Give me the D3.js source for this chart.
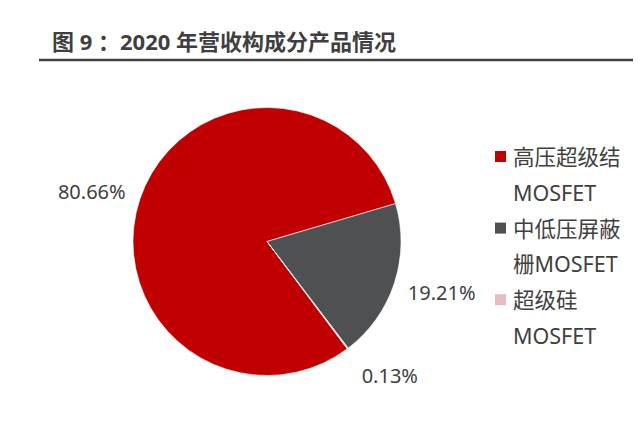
<!DOCTYPE html>
<html>
<head>
<meta charset="utf-8">
<script src="https://cdn.jsdelivr.net/npm/d3@7"></script>
<style>
    html, body { margin: 0; padding: 0; background: #fff; }
    svg { display: block; }
</style>
</head>
<body>
<div id="chart"></div>
<script>
"use strict";

// data
const categories = ["高压超级结MOSFET", "中低压屏蔽栅MOSFET", "超级硅MOSFET"];
const shares = [80.66, 19.21, 0.13];
const legendLines = [["高压超级结", "MOSFET"], ["中低压屏蔽", "栅MOSFET"], ["超级硅", "MOSFET"]];
const colors = ["#C00000", "#4F5052", "#E8BDBD"];

const width = 640, height = 421;
const cx = 267, cy = 241.5, radius = 134;
const startDeg = 143.2;
// small angular shift Excel applies to the outside labels (degrees)
const labelShift = [-2.7, -1.9, -5.4];

const svg = d3.select("#chart")
    .append("svg")
    .attr("width", width)
    .attr("height", height);

// title + rule
svg.append("text")
    .attr("x", 52)
    .attr("y", 50)
    .attr("font-family", "'Noto Sans', 'Noto Sans CJK SC', sans-serif")
    .attr("font-weight", "bold")
    .attr("font-size", 22)
    .attr("fill", "#3F3F3F")
    .attr("xml:space", "preserve")
    .text("图 9 ：2020 年营收构成分产品情况");

svg.append("line")
    .attr("x1", 39).attr("x2", 633)
    .attr("y1", 60).attr("y2", 60)
    .attr("stroke", "#404040")
    .attr("stroke-width", 2.5);

const rows = categories.map((c, i) => ({ name: c, value: shares[i], i: i }));

const pie = d3.pie()
    .sort(null)
    .value(d => d.value)
    .startAngle(startDeg * Math.PI / 180)
    .endAngle(startDeg * Math.PI / 180 + 2 * Math.PI);

const arc = d3.arc().innerRadius(0).outerRadius(radius);
const labelArc = d3.arc().innerRadius(182).outerRadius(182);

const g = svg.append("g").attr("transform", `translate(${cx},${cy})`);

const arcs = pie(rows);

g.selectAll("path")
    .data(arcs)
    .join("path")
    .attr("d", arc)
    .attr("fill", d => colors[d.data.i])
    .attr("stroke", "#fff")
    .attr("stroke-width", 0.6);

g.selectAll("text.pct")
    .data(arcs)
    .join("text")
    .attr("class", "pct")
    .attr("transform", d => {
        const s = labelShift[d.data.i] * Math.PI / 180;
        const p = labelArc.centroid({ startAngle: d.startAngle + s, endAngle: d.endAngle + s });
        return `translate(${p[0]},${p[1]})`;
    })
    .attr("text-anchor", "middle")
    .attr("dy", "0.36em")
    .attr("font-family", "'Noto Sans', 'Noto Sans CJK SC', sans-serif")
    .attr("font-size", 20)
    .attr("fill", "#404040")
    .text(d => d.data.value.toFixed(2) + "%");

// legend
const lineStep = 35.8;
const legend = svg.append("g").attr("transform", "translate(495,165)");

const item = legend.selectAll("g")
    .data(rows)
    .join("g")
    .attr("transform", d => `translate(0,${d.i * 2 * lineStep})`);

item.append("rect")
    .attr("x", 0)
    .attr("y", -14)
    .attr("width", 11)
    .attr("height", 11)
    .attr("fill", d => colors[d.i]);

item.selectAll("text")
    .data(d => legendLines[d.i])
    .join("text")
    .attr("x", 18)
    .attr("y", (d, j) => j * lineStep)
    .attr("font-family", "'Noto Sans', 'Noto Sans CJK SC', sans-serif")
    .attr("font-size", 21.5)
    .attr("fill", "#404040")
    .text(d => d);
</script>
</body>
</html>
